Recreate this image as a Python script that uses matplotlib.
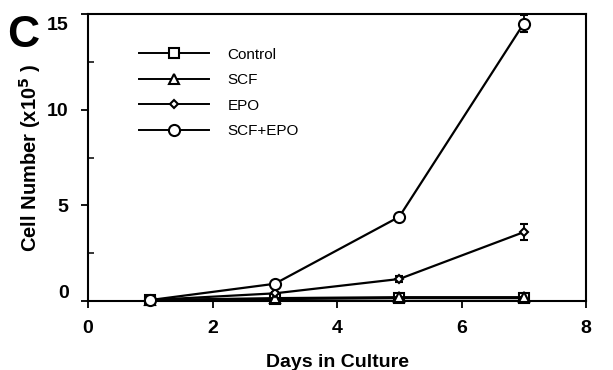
import numpy as np
import matplotlib
matplotlib.use("Agg")
import matplotlib.pyplot as plt
from matplotlib.ticker import MultipleLocator
from matplotlib.lines import Line2D
import matplotlib.transforms as mtransforms

plt.rcParams['font.family'] = ['Liberation Sans', 'DejaVu Sans']

days = [1, 3, 5, 7]
control = [0.05, 0.1, 0.15, 0.15]
scf = [0.05, 0.15, 0.2, 0.2]
epo = [0.05, 0.4, 1.15, 3.6]
epo_err = [0.0, 0.05, 0.15, 0.42]
scf_epo = [0.05, 0.9, 4.4, 14.5]
scf_epo_err = [0.0, 0.05, 0.1, 0.45]

series = [
    ("Control", control, None, "s", 7),
    ("SCF", scf, None, "^", 7.5),
    ("EPO", epo, epo_err, "D", 4),
    ("SCF+EPO", scf_epo, scf_epo_err, "o", 8),
]

fig = plt.figure(figsize=(6.13, 3.7), dpi=100)
ax = fig.add_axes([88 / 613, 1 - 301 / 370, (586 - 88) / 613, (301 - 14) / 370])

handles = []
for name, vals, err, mk, ms in series:
    ax.errorbar(days, vals, yerr=err, color="black", lw=1.6, marker=mk, ms=ms,
                mfc="white", mec="black", mew=1.5, capsize=3, elinewidth=1.3,
                capthick=1.3, clip_on=False, zorder=3)
    handles.append(Line2D([], [], color="black", lw=1.4, marker=mk, ms=ms,
                          mfc="white", mec="black", mew=1.5, label=name))

ax.set_xlim(0, 8)
ax.set_ylim(0, 15)
ax.set_xticks([0, 2, 4, 6, 8])
ax.set_yticks([0, 5, 10, 15])
ax.yaxis.set_minor_locator(MultipleLocator(2.5))
ax.tick_params(axis="both", which="major", labelsize=14, width=1.3, length=5, direction="out")
ax.tick_params(axis="y", which="minor", width=1.1, length=4, direction="in")
for lab in ax.get_xticklabels() + ax.get_yticklabels():
    lab.set_fontweight("bold")
ax.tick_params(axis="x", pad=9)
ax.tick_params(axis="y", pad=9)

ylabs = ax.get_yticklabels()
ylabs[0].set_transform(ylabs[0].get_transform() + mtransforms.ScaledTranslation(0, 0.1, fig.dpi_scale_trans))
ylabs[-1].set_transform(ylabs[-1].get_transform() + mtransforms.ScaledTranslation(0, -0.1, fig.dpi_scale_trans))

for sp in ax.spines.values():
    sp.set_linewidth(1.5)

ax.set_xlabel("Days in Culture", fontsize=14, fontweight="bold", labelpad=12)
ax.set_ylabel("Cell Number (x10$^{\\mathbf{5}}$ )", fontsize=14.5, fontweight="bold", labelpad=3)

ax.legend(handles=handles, loc="upper left", bbox_to_anchor=(0.075, 0.93), frameon=False,
          fontsize=11, handlelength=4.6, handletextpad=1.2, labelspacing=0.75)

fig.text(0.012, 0.96, "C", fontsize=32, fontweight="heavy", va="top", ha="left")

fig.savefig("out.png", dpi=100)
